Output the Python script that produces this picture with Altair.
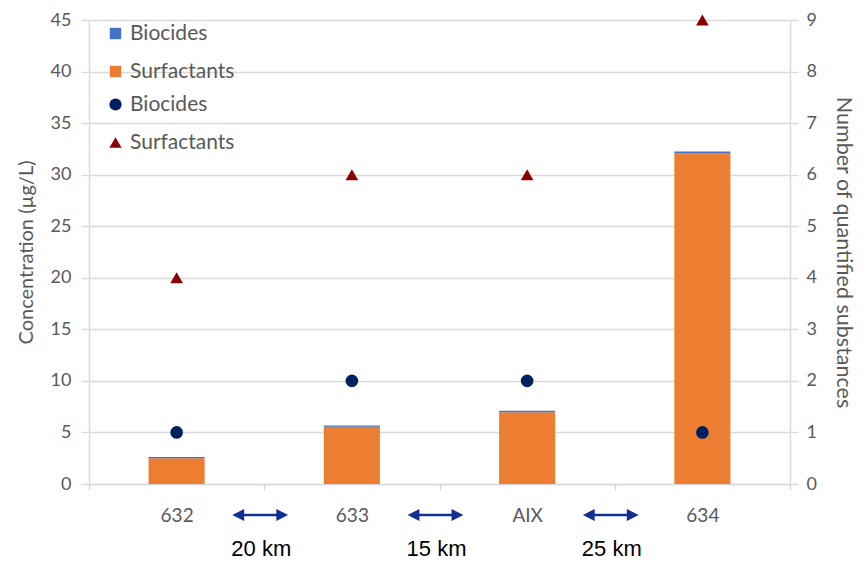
import altair as alt
import pandas as pd

# ---- data ----
stations = ["632", "633", "AIX", "634"]
surfactant_conc = [2.5, 5.55, 6.95, 32.05]
biocide_conc = [0.13, 0.13, 0.15, 0.2]
n_biocides = [1, 2, 2, 1]
n_surfactants = [4, 6, 6, 9]
segment_start = ["632", "633", "AIX"]
distances = ["20 km", "15 km", "25 km"]
groups = ["Biocides", "Surfactants"]

bars_df = pd.DataFrame({
    "station": stations * 2,
    "group": ["Surfactants"] * len(stations) + ["Biocides"] * len(stations),
    "conc": surfactant_conc + biocide_conc,
    "ord": [0] * len(stations) + [1] * len(stations),
})
pts_df = pd.DataFrame({
    "station": stations * 2,
    "series": ["Biocides"] * len(stations) + ["Surfactants"] * len(stations),
    "n": n_biocides + n_surfactants,
})
dist_df = pd.DataFrame({"station": segment_start, "label": distances})

FONT = "Lato"
GRAY = "#595959"
GRID = "#D9D9D9"
ARROW = "#12308F"

x_main = alt.X(
    "station:N", sort=stations,
    scale=alt.Scale(paddingInner=0, paddingOuter=0),
    axis=alt.Axis(title=None, labelAngle=0, tickBand="extent", ticks=True, tickSize=6,
                  tickColor=GRID, tickWidth=1.5, domainColor=GRID, domainWidth=1.5,
                  labelColor=GRAY, labelFont=FONT, labelFontSize=19, labelPadding=16,
                  grid=False),
)
x_plain = alt.X("station:N", sort=stations)
x_edge = alt.X("station:N", sort=stations, bandPosition=1)

bars = alt.Chart(bars_df).mark_bar(width=alt.RelativeBandSize(0.32)).encode(
    x=x_main,
    y=alt.Y("conc:Q", stack="zero", scale=alt.Scale(domain=[0, 45]),
            axis=alt.Axis(title="Concentration (µg/L)", orient="left", values=list(range(0, 46, 5)),
                          grid=True, gridColor=GRID, gridWidth=1.3, tickColor=GRID, tickSize=8,
                          tickWidth=1.3, domainColor=GRID, domainWidth=1.5, labelPadding=10,
                          titlePadding=14, labelFontSize=18, titleFontSize=20)),
    color=alt.Color("group:N", scale=alt.Scale(domain=groups, range=["#4472C4", "#ED7D31"]),
                    legend=alt.Legend(title=None, orient="none", legendX=16, legendY=3,
                                      symbolType="square", symbolSize=130, labelFontSize=21,
                                      labelFont=FONT, labelColor=GRAY, rowPadding=16,
                                      labelOffset=4, symbolStrokeWidth=0)),
    order=alt.Order("ord:Q"),
)

pt_legend = alt.Legend(title=None, orient="none", legendX=16, legendY=74, symbolSize=150,
                       labelFontSize=21, labelFont=FONT, labelColor=GRAY, rowPadding=16,
                       labelOffset=4, symbolStrokeWidth=0)
points = alt.Chart(pts_df).mark_point(filled=True, size=160, opacity=1).encode(
    x=x_plain,
    y=alt.Y("n:Q", scale=alt.Scale(domain=[0, 9]),
            axis=alt.Axis(title="Number of quantified substances", orient="right",
                          values=list(range(0, 10)), grid=False, tickColor=GRID, tickSize=8,
                          tickWidth=1.3, domainColor=GRID, domainWidth=1.5, labelPadding=8,
                          titlePadding=15, labelFontSize=18, titleFontSize=21.5)),
    color=alt.Color("series:N", scale=alt.Scale(domain=groups, range=["#002060", "#8B0000"]),
                    legend=pt_legend),
    shape=alt.Shape("series:N", scale=alt.Scale(domain=groups, range=["circle", "triangle-up"]),
                    legend=pt_legend),
)

shaft = alt.Chart(dist_df).mark_rule(color=ARROW, strokeWidth=2.4, xOffset=-24, x2Offset=16).encode(
    x=x_edge, x2=alt.X2("station", bandPosition=1), y=alt.value(495)
)
head_l = alt.Chart(dist_df).mark_point(shape="M-1,0L1,-1L1,1Z", filled=True, size=140,
                                       opacity=1, color=ARROW, xOffset=-26).encode(
    x=x_edge, y=alt.value(495)
)
head_r = alt.Chart(dist_df).mark_point(shape="M1,0L-1,-1L-1,1Z", filled=True, size=140,
                                       opacity=1, color=ARROW, xOffset=18).encode(
    x=x_edge, y=alt.value(495)
)
dist_text = alt.Chart(dist_df).mark_text(font="Liberation Sans", fontSize=22, color="black",
                                         baseline="alphabetic", dx=-3).encode(
    x=x_edge, y=alt.value(536), text="label:N"
)

chart = alt.layer(bars, points, shaft, head_l, head_r, dist_text).resolve_scale(
    y="independent", color="independent", shape="independent"
).properties(
    width=701, height=464,
    autosize=alt.AutoSizeParams(type="none"),
    padding={"left": 81, "top": 12, "right": 68, "bottom": 77},
).configure_axis(
    labelFont=FONT, titleFont=FONT, labelColor=GRAY, titleColor=GRAY, titleFontWeight="normal"
).configure_view(stroke=None)

chart.save("out.html", embed_options={"renderer": "svg", "actions": False})
